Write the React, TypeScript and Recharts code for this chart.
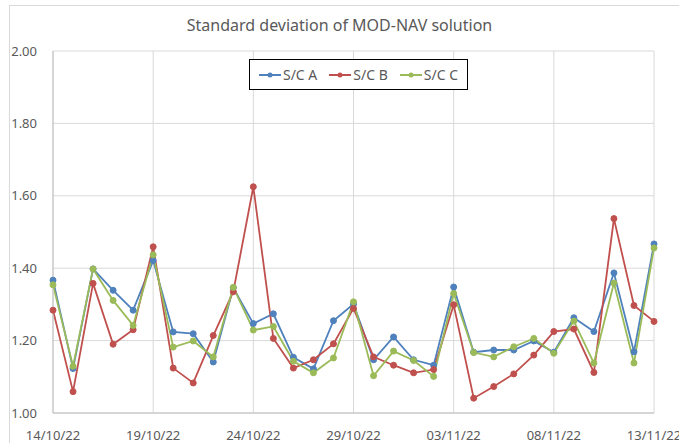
import React from 'react';
import { LineChart, Line, XAxis, YAxis, CartesianGrid } from 'recharts';

const dates = [
  '14/10/22','15/10/22','16/10/22','17/10/22','18/10/22','19/10/22','20/10/22','21/10/22','22/10/22','23/10/22',
  '24/10/22','25/10/22','26/10/22','27/10/22','28/10/22','29/10/22','30/10/22','31/10/22','01/11/22','02/11/22',
  '03/11/22','04/11/22','05/11/22','06/11/22','07/11/22','08/11/22','09/11/22','10/11/22','11/11/22','12/11/22','13/11/22',
];

const scA = [1.367,1.123,1.398,1.339,1.284,1.421,1.224,1.219,1.141,1.346,1.247,1.274,1.154,1.122,1.255,1.301,1.147,1.210,1.147,1.132,1.348,1.168,1.174,1.174,1.199,1.168,1.263,1.225,1.387,1.169,1.467];
const scB = [1.284,1.059,1.358,1.190,1.230,1.459,1.124,1.083,1.214,1.335,1.625,1.206,1.124,1.147,1.191,1.289,1.155,1.132,1.111,1.120,1.299,1.041,1.073,1.108,1.160,1.225,1.232,1.112,1.537,1.297,1.253];
const scC = [1.354,1.129,1.398,1.311,1.242,1.437,1.182,1.199,1.155,1.347,1.229,1.239,1.143,1.111,1.152,1.307,1.103,1.171,1.145,1.101,1.330,1.167,1.155,1.183,1.206,1.165,1.254,1.138,1.359,1.138,1.456];

const yTicks = [1.0, 1.2, 1.4, 1.6, 1.8, 2.0];

const seriesNames = ['S/C A', 'S/C B', 'S/C C'];
const seriesColors = ['#4F81BD', '#C0504D', '#9BBB59'];

const data = dates.map((d, i) => ({ date: d, a: scA[i], b: scB[i], c: scC[i] }));

const FONT = '"Noto Sans", "Open Sans", sans-serif';

export default function App() {
  return (
    <div style={{ position: 'absolute', left: 0, top: 0, width: 679, height: 443, background: '#fff', overflow: 'hidden' }}>
      <div
        style={{
          position: 'absolute',
          left: 9,
          top: 5,
          width: 700,
          height: 460,
          border: '1px solid #d9d9d9',
          boxSizing: 'border-box',
        }}
      />
      <div
        style={{
          position: 'absolute',
          left: 0,
          width: 679,
          top: 14,
          textAlign: 'center',
          fontFamily: FONT,
          fontSize: 16,
          color: '#595959',
        }}
      >
        Standard deviation of MOD-NAV solution
      </div>
      <div style={{ position: 'absolute', left: 0, top: 0 }}>
        <LineChart width={679} height={443} data={data} margin={{ top: 51, right: 25, bottom: 0, left: 0 }}>
          <CartesianGrid stroke="#d9d9d9" strokeWidth={1} />
          <XAxis
            dataKey="date"
            interval={4}
            height={30}
            tickLine={false}
            axisLine={{ stroke: '#bfbfbf' }}
            tick={{ fill: '#595959', fontSize: 13, fontFamily: FONT }}
            tickMargin={12}
          />
          <YAxis
            domain={[1, 2]}
            ticks={yTicks}
            width={53}
            tickLine={false}
            axisLine={{ stroke: '#bfbfbf' }}
            tick={{ fill: '#595959', fontSize: 13, fontFamily: FONT }}
            tickFormatter={(v: number) => v.toFixed(2)}
            tickMargin={10}
          />
          <Line type="linear" dataKey="a" name="S/C A" stroke={seriesColors[0]} strokeWidth={1.8} dot={{ r: 3, fill: seriesColors[0], stroke: seriesColors[0], strokeWidth: 1 }} isAnimationActive={false} />
          <Line type="linear" dataKey="b" name="S/C B" stroke={seriesColors[1]} strokeWidth={1.8} dot={{ r: 3, fill: seriesColors[1], stroke: seriesColors[1], strokeWidth: 1 }} isAnimationActive={false} />
          <Line type="linear" dataKey="c" name="S/C C" stroke={seriesColors[2]} strokeWidth={1.8} dot={{ r: 3, fill: seriesColors[2], stroke: seriesColors[2], strokeWidth: 1 }} isAnimationActive={false} />
        </LineChart>
      </div>
      <div
        style={{
          position: 'absolute',
          left: 249,
          top: 59,
          width: 219,
          height: 31,
          border: '1px solid #000',
          boxSizing: 'border-box',
          background: '#fff',
          display: 'flex',
          alignItems: 'center',
          justifyContent: 'center',
          fontFamily: FONT,
          fontSize: 14,
          color: '#595959',
          gap: 12,
        }}
      >
        {seriesNames.map((n, i) => (
          <div key={n} style={{ display: 'flex', alignItems: 'center' }}>
            <svg width={22} height={10} style={{ marginRight: 2 }}>
              <line x1={0} y1={5} x2={22} y2={5} stroke={seriesColors[i]} strokeWidth={2} />
              <circle cx={11} cy={5} r={2.5} fill={seriesColors[i]} />
            </svg>
            <span>{n}</span>
          </div>
        ))}
      </div>
    </div>
  );
}
